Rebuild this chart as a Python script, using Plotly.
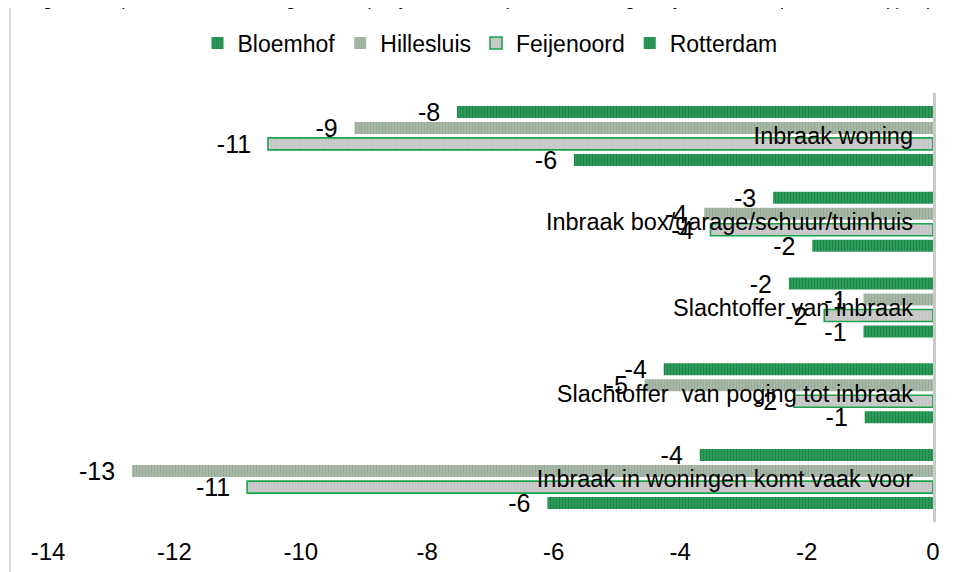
import plotly.graph_objects as go

categories = [
    "Inbraak woning",
    "Inbraak box/garage/schuur/tuinhuis",
    "Slachtoffer van inbraak",
    "Slachtoffer  van poging tot inbraak",
    "Inbraak in woningen komt vaak voor",
]
bloemhof = [-7.53, -2.53, -2.28, -4.26, -3.69]
hillesluis = [-9.15, -3.62, -1.10, -4.56, -12.67]
feijenoord = [-10.52, -3.52, -1.72, -2.20, -10.85]
rotterdam = [-5.68, -1.91, -1.10, -1.08, -6.10]
x_ticks = [-14, -12, -10, -8, -6, -4, -2, 0]
title_text = ("Ontwikkeling inbraak per buurt in de woongebieden (subjectieve data per ontwikkeling, "
              "subjectieve data per onderwerp) in procenten")

FONT = "Arial, Liberation Sans, sans-serif"
NARROW = "Liberation Sans Narrow, Arial Narrow, Arial, Liberation Sans, sans-serif"

# page body margin of 8px shifts the figure; margins are set in figure pixels
OFF = 8
W, H = 959, 572
PL, PT, PW, PH = 48 - OFF, 93 - OFF, 885, 429
L, T = PL, PT
R = W - L - PW
B = H - T - PH
N = len(categories)


def px_x(page_x):
    return (page_x - OFF - L) / PW


def px_y(page_y):
    return (T + PH - (page_y - OFF)) / PH


series = [
    ("Bloemhof", bloemhof, dict(color="#2b9a58", line=dict(width=0),
                                pattern=dict(shape="|", fgcolor="#0a6a33", bgcolor="#30a05d", size=3, solidity=0.5))),
    ("Hillesluis", hillesluis, dict(color="#a3b3a3", line=dict(width=0),
                                    pattern=dict(shape="|", fgcolor="#849a86", bgcolor="#adbdad", size=3, solidity=0.5))),
    ("Feijenoord", feijenoord, dict(color="#c6c6c6", line=dict(width=1.6, color="#1aa34a"),
                                    pattern=dict(shape="|", fgcolor="#bcbcbc", bgcolor="#cbcbcb", size=3, solidity=0.4))),
    ("Rotterdam", rotterdam, dict(color="#2b9a58", line=dict(width=0),
                                  pattern=dict(shape="|", fgcolor="#0a6a33", bgcolor="#30a05d", size=3, solidity=0.5))),
]

fig = go.Figure()
for name, vals, marker in series:
    fig.add_trace(go.Bar(
        y=categories, x=vals, name=name, orientation="h", marker=marker,
        texttemplate="%{x:.0f}\u00a0\u00a0", textposition="outside",
        textfont=dict(family=FONT, size=25, color="#000000"),
        cliponaxis=False, constraintext="none", hoverinfo="x+name",
    ))

# helper trace carrying the category-label axis (drawn inside the plot area)
fig.add_trace(go.Scatter(x=[0] * N, y=categories, xaxis="x", yaxis="y2",
                         mode="markers", marker=dict(opacity=0, size=1), showlegend=False,
                         hoverinfo="skip"))

fig.update_layout(
    width=W, height=H,
    margin=dict(l=L, r=R, t=T, b=B, autoexpand=False),
    paper_bgcolor="white", plot_bgcolor="white",
    barmode="group", bargap=0.254, bargroupgap=0.25,
    font=dict(family=FONT, size=19, color="#000000"),
    legend=dict(orientation="h", x=px_x(490), xanchor="center", y=px_y(43), yanchor="middle",
                traceorder="normal", font=dict(size=23, family=FONT, color="#000000"),
                itemwidth=30, bgcolor="rgba(0,0,0,0)"),
    xaxis=dict(range=[-14, 0], tickvals=x_ticks, ticktext=[str(v) for v in x_ticks],
               showgrid=False, zeroline=False, showline=False, ticks="",
               tickfont=dict(size=24, family=NARROW, color="#000000"), ticklabelstandoff=13),
    yaxis=dict(type="category", categoryarray=categories, range=[N - 0.5, -0.5], side="right",
               showline=True, linecolor="#c9c9c5", linewidth=3, showgrid=False, zeroline=False,
               ticks="", showticklabels=False, layer="above traces"),
    yaxis2=dict(type="category", categoryarray=categories, range=[N - 0.5, -0.5],
                overlaying="y", anchor="free", position=px_x(913), side="left",
                showline=False, showgrid=False, zeroline=False, ticks="",
                tickfont=dict(size=23.5, family=FONT, color="#000000"), ticklabelstandoff=0),
    showlegend=True,
)

# chart area frame (partly off-page)
fig.add_shape(type="rect", xref="paper", yref="paper",
              x0=px_x(10), x1=1.2, y0=-0.3, y1=px_y(5),
              line=dict(color="#d9d9d9", width=2), fillcolor="rgba(0,0,0,0)", layer="below")

# title (clipped at top of page as in reference)
fig.add_annotation(text="<i>" + title_text + "</i>", xref="paper", yref="paper",
                   x=px_x(480), y=px_y(5), xanchor="center", yanchor="bottom",
                   showarrow=False, font=dict(family=FONT, size=18, color="#000000"),
                   yshift=-6)

fig.write_html("out.html")
